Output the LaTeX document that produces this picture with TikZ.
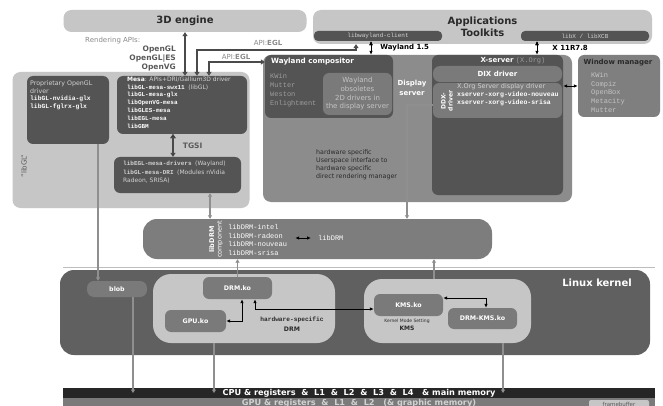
\documentclass[tikz,border=0pt]{standalone}
\usepackage{fontspec}
\setmainfont{DejaVu Sans}
\setsansfont{DejaVu Sans}
\setmonofont{Liberation Mono}
\usetikzlibrary{arrows.meta}
\usetikzlibrary{positioning}

\definecolor{boxlight}{HTML}{C6C6C6}
\definecolor{boxdark}{HTML}{545454}
\definecolor{boxmid}{HTML}{7A7A7A}
\definecolor{dispgray}{HTML}{8C8C8C}
\definecolor{drmgray}{HTML}{7D7D7D}
\definecolor{kerngray}{HTML}{606060}
\definecolor{wmgray}{HTML}{7F7F7F}
\definecolor{barblack}{HTML}{262626}
\definecolor{txtlight}{HTML}{D2D2D2}
\definecolor{txtdim}{HTML}{9C9C9C}
\definecolor{txtsoft}{HTML}{C4C4C4}
\definecolor{txtgray}{HTML}{8A8A8A}
\definecolor{txtmid}{HTML}{5A5A5A}
\definecolor{txtdark}{HTML}{2A2A2A}
\definecolor{arrgray}{HTML}{8F8F8F}
\definecolor{arrdark}{HTML}{4A4A4A}
\definecolor{sepgray}{HTML}{BDBDBD}

\newcommand{\fsz}[2]{\fontsize{#1}{#2}\selectfont}

\tikzset{
  wh/.style 2 args={minimum width=#1pt, minimum height=#2pt},
  lightbox/.style={fill=boxlight, rounded corners=8pt, inner sep=0pt},
  darkbox/.style={fill=boxdark, rounded corners=6pt, inner sep=0pt},
  midbox/.style={fill=boxmid, rounded corners=6pt, inner sep=0pt, text=white, font=\bfseries\fsz{6.3}{7}},
  txt/.style={inner sep=0pt, align=left},
  darr/.style={draw=arrdark, line width=1.8pt, {Triangle[length=4pt,width=5pt]}-{Triangle[length=4pt,width=5pt]}},
  garr/.style={draw=arrgray, line width=1.3pt, -{Triangle[length=3.5pt,width=4pt]}},
  garr2/.style={draw=arrgray, line width=1.3pt, {Triangle[length=3.5pt,width=4pt]}-{Triangle[length=3.5pt,width=4pt]}},
  barr/.style={draw=black, line width=0.9pt, {Latex[length=4pt,width=3.5pt]}-{Latex[length=4pt,width=3.5pt]}}
}

\begin{document}
\begin{tikzpicture}[x=1pt,y=-1pt]
\fill[white] (0,0) rectangle (663,406);
\useasboundingbox (0,0) rectangle (663,406);

\node[lightbox, wh={243}{22}, text=txtdark, font=\bfseries\fsz{10}{12}] (eng) at (185,21) {3D engine};
\node[lightbox, wh={339}{34}, align=center, text=txtdark, font=\bfseries\fsz{10}{12}] (apps) at (482.5,27) {Applications\\Toolkits};
\node[darkbox, rounded corners=4pt, wh={128}{10}, text=txtlight, font=\ttfamily\fsz{6}{7}] (wlc) at (378,36) {libwayland-client};
\node[darkbox, rounded corners=4pt, wh={128}{10}, text=txtlight, font=\ttfamily\fsz{6}{7}] (xlib) at (585,36) {libX / libXCB};

\node[txt, anchor=west, text=txtgray, font=\fsz{7}{8}] (rapi) at (85,41) {Rendering APIs:};
\node[txt, anchor=east, align=right, text=txtmid, font=\bfseries\fsz{7.5}{9}] (apis) at (176,58) {OpenGL\\OpenGL|ES\\OpenVG};
\node[txt, text=txtgray, font=\fsz{7}{8}] (egl_a) at (268,43) {API:\textbf{EGL}};
\node[txt, text=txtgray, font=\fsz{7}{8}] (egl_b) at (236,57) {API:\textbf{EGL}};

\node[lightbox, wh={237}{136}] (libgl) at (131,140) {};
\node[txt, rotate=90, text=txtmid, font=\fsz{7}{8}] (libgl_lbl) at (24,166) {"libGL"};
\node[darkbox, wh={82}{68}] (prop) at (68,110) {};
\node[txt, anchor=north west, text=txtlight, font=\fsz{6.3}{7.7}] (prop_txt) at (30,80.5) {Proprietary OpenGL\\driver\\{\ttfamily\bfseries\color{white}libGL-nvidia-glx}\\{\ttfamily\bfseries\color{white}libGL-fglrx-glx}};
\node[darkbox, wh={130}{58}] (mesa) at (182,105) {};
\node[txt, anchor=north west, text=white, font=\ttfamily\bfseries\fsz{6}{7.8}] (mesa_txt) at (127,76.5) {{\rmfamily Mesa\mdseries\color{txtlight}: APIs+DRI/Gallium3D driver}\\libGL-mesa-swx11 {\rmfamily\mdseries\color{txtlight}(libGL)}\\libGL-mesa-glx\\libOpenVG-mesa\\libGLES-mesa\\libEGL-mesa\\libGBM};
\node[darkbox, wh={127}{36}] (drv) at (177.5,175) {};
\node[txt, anchor=north west, text=txtlight, font=\ttfamily\bfseries\fsz{6}{8.3}] (drv_txt) at (123,161) {libEGL-mesa-drivers {\rmfamily\mdseries(Wayland)}\\libGL-mesa-DRI {\rmfamily\mdseries(Modules nVidia}\\{\rmfamily\mdseries Radeon, SRISA)}};

\node[fill=dispgray, rounded corners=8pt, wh={309}{147}] (dsp) at (417.5,128.5) {};
\node[darkbox, wh={128}{63}] (wlcomp) at (329,86.5) {};
\node[txt, anchor=west, text=white, font=\bfseries\fsz{7.2}{8}] (wlcomp_lbl) at (271,62) {Wayland compositor};
\node[txt, anchor=north west, text=txtdim, font=\ttfamily\fsz{7}{9}] (wlcomp_list) at (270,73.5) {KWin\\Mutter\\Weston\\Enlightment};
\node[midbox, wh={69}{42}, align=center, text=txtsoft, font=\fsz{7}{8.7}] (wlobs) at (357.5,94) {Wayland\\obsoletes\\2D drivers in\\the display server};
\node[txt, align=center, text=white, font=\bfseries\fsz{7}{9.5}] (dsp_lbl) at (412,88) {Display\\server};
\node[darkbox, wh={131}{140}] (xsrv) at (497.5,125) {};
\node[txt, text=white, font=\bfseries\fsz{7}{8}] (xsrv_lbl) at (513,61) {X-server {\ttfamily\mdseries\color{txtdim}(X.Org)}};
\node[midbox, rounded corners=7pt, wh={129}{16}, font=\bfseries\fsz{7}{8}] (dix) at (497.5,74) {DIX driver};
\node[midbox, wh={129}{35}] (ddx) at (497.5,100.5) {};
\node[txt, rotate=90, align=center, text=white, font=\bfseries\fsz{6}{7}] (ddx_lbl) at (447,101) {DDX-\\driver};
\node[txt, anchor=north west, text=txtlight, font=\fsz{6.5}{8}] (ddx_txt) at (457,83) {X.Org Server display driver\\{\ttfamily\bfseries\color{white}xserver-xorg-video-nouveau}\\{\ttfamily\bfseries\color{white}xserver-xorg-video-srisa}};
\node[txt, anchor=north west, text=txtdark, font=\fsz{6.3}{8}] (hw_txt) at (316,150) {hardware specific\\Userspace interface to\\hardware specific\\direct rendering manager};

\node[fill=wmgray, rounded corners=6pt, wh={82}{62}] (wm) at (619,86) {};
\node[txt, text=txtdark, font=\bfseries\fsz{7}{8}] (wm_lbl) at (618,63) {Window manager};
\node[txt, anchor=north west, text=txtsoft, font=\ttfamily\fsz{7}{8.8}] (wm_list) at (591,72) {KWin\\Compiz\\OpenBox\\Metacity\\Mutter};

\node[fill=drmgray, rounded corners=14pt, wh={349}{40}] (libdrm) at (317.5,239) {};
\node[txt, rotate=90, align=center, text=white, font=\fsz{6.5}{7.5}] (libdrm_lbl) at (216,239.5) {\textbf{libDRM}\\component};
\node[txt, anchor=west, text=white, font=\ttfamily\fsz{7}{8.8}] (drm_list) at (228,240) {libDRM-intel\\libDRM-radeon\\libDRM-nouveau\\libDRM-srisa};
\node[txt, anchor=west, text=white, font=\ttfamily\fsz{7}{8}] (drm_lbl) at (318,238) {libDRM};

\draw[sepgray, line width=0.8pt] (63,267) -- (655,267);
\node[fill=kerngray, rounded corners=14pt, wh={590}{85}] (kernel) at (355,312.5) {};
\node[txt, text=white, font=\bfseries\fsz{10}{12}] (kernel_lbl) at (597,283) {Linux kernel};
\node[midbox, rounded corners=7pt, wh={60}{16}] (blob) at (117,289) {blob};
\node[lightbox, rounded corners=18pt, wh={182}{69}] (drm_grp) at (244,308.5) {};
\node[midbox, wh={69}{22}] (drm_ko) at (237.5,288) {DRM.ko};
\node[midbox, wh={61}{22}] (gpu_ko) at (195.5,321) {GPU.ko};
\node[txt, align=center, text=txtdark, font=\fsz{6.2}{10}] (drm_txt) at (292,324) {{\ttfamily\bfseries hardware-specific}\\\textbf{DRM}};
\node[lightbox, rounded corners=18pt, wh={167}{64}] (kms_grp) at (447.5,311) {};
\node[midbox, wh={69}{22}] (kms_ko) at (408.5,305) {KMS.ko};
\node[midbox, wh={69}{21}] (drmkms_ko) at (482.5,318.5) {DRM-KMS.ko};
\node[txt, align=center, text=txtdark, font=\fsz{4.5}{8.5}] (kms_txt) at (407,325) {Kernel Mode Setting\\{\bfseries\fsz{6}{8.5}KMS}};

\node[fill=barblack, inner sep=0pt, wh={592}{10}, text=white, font=\bfseries\fsz{8.2}{9}] (cpu) at (359,393) {CPU \& registers ~\&~ L1 ~\&~ L2 ~\&~ L3 ~\&~ L4 ~~\& main memory};
\node[fill=boxmid, inner sep=0pt, wh={592}{10}, text=txtlight, font=\bfseries\fsz{8.2}{9}] (gpu) at (359,403) {GPU \& registers ~\&~ L1 ~\&~ L2 ~~(\& graphic memory)};
\node[fill=boxlight, rounded corners=2pt, inner sep=0pt, wh={60}{8}, text=txtmid, font=\fsz{5.5}{6}] (fbuf) at (619,404) {framebuffer};

\draw[darr] (eng.south) -- ([xshift=3pt]mesa.north);
\draw[darr, shorten >=3pt] ([xshift=15pt]mesa.north) -- ++(0,-26) -| ([xshift=-22pt]wlc.south);
\draw[darr] ([xshift=27pt]mesa.north) |- ([yshift=24.5pt]wlcomp.west);
\path[darr] ([xshift=-9pt]mesa.south) edge node[right=9pt, inner sep=0pt, text=txtmid, font=\bfseries\fsz{7.5}{8}] {TGSI} ([xshift=-4.5pt]drv.north);
\path[barr] ([xshift=-7pt]wlc.south) edge node[right=9pt, inner sep=0pt, font=\bfseries\fsz{7}{8}] {Wayland 1.5} ([xshift=42pt]wlcomp.north);
\path[barr] ([xshift=-48pt]xlib.south) edge node[right=15pt, inner sep=0pt, font=\bfseries\fsz{7}{8}] {X 11R7.8} ([xshift=39.5pt]xsrv.north);
\draw[barr] (wm.west -| xsrv.east) -- (wm.west);
\draw[barr, shorten <=8pt, shorten >=7pt] (drm_lbl.west -| drm_list.east) -- (drm_lbl.west);

\draw[garr2] ([xshift=32.5pt]drv.south) -- ([xshift=-107.5pt]libdrm.north);
\draw[garr] ([yshift=-4.5pt]ddx.west) -| ([xshift=89.5pt]libdrm.north);
\draw[garr] ([xshift=30pt]prop.south) -- ([xshift=-19pt]blob.north);
\draw[garr] (drm_ko.north) -- ([xshift=-80pt]libdrm.south);
\draw[garr] ([xshift=-13.5pt]kms_grp.north) -- ([xshift=116.5pt]libdrm.south);
\draw[garr] ([xshift=16pt]blob.south) -- ([xshift=-226pt]cpu.center);
\draw[garr] ([xshift=-30pt]drm_grp.south) -- ([xshift=-145pt]cpu.center);
\draw[garr] ([xshift=55.5pt]kms_grp.south) -- ([xshift=144pt]cpu.center);

\draw[barr] ([xshift=4.5pt]drm_ko.south) |- (gpu_ko.east);
\draw[barr] ([xshift=17.5pt]drm_ko.south) |- ([yshift=-4pt]kms_ko.west);
\draw[barr] ([yshift=7pt]kms_ko.east) -| ([xshift=3.5pt]drmkms_ko.north);
\end{tikzpicture}
\end{document}
